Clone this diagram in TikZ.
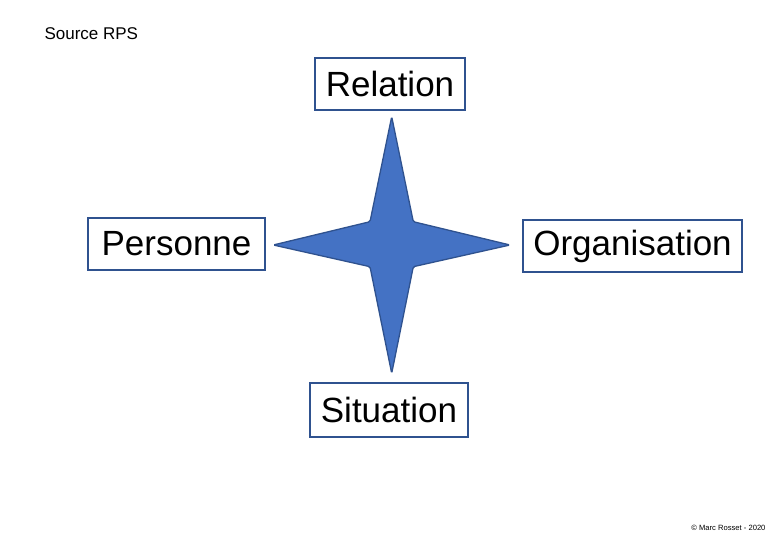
\documentclass[tikz,border=0pt]{standalone}
\usepackage{fontspec}
\setmainfont{Liberation Sans}
\definecolor{boxline}{HTML}{2F528F}
\definecolor{starfill}{HTML}{4472C4}
\begin{document}
\begin{tikzpicture}[x=1pt,y=-1pt,
  labelbox/.style={draw=boxline, line width=2.5pt, fill=white, inner sep=0pt,
    minimum height=52pt, font=\fontsize{35}{40}\selectfont, text=black},
]
\useasboundingbox[fill=white] (0,0) rectangle (780,540);
\node[anchor=base west, font=\fontsize{17}{20}\selectfont] (src) at (41,40) {Source RPS};
\node[anchor=base east, font=\fontsize{7.6}{9}\selectfont] (copy) at (769,530) {© Marc Rosset - 2020};
% star
\draw[fill=starfill, draw=boxline, line width=1.3pt, rounded corners=1.5pt]
  (391.7,116.7) -- (413.3,221.7) -- (510,245) -- (413.3,266.7)
  -- (391.7,373.3) -- (370,266.7) -- (273.3,245) -- (370,221.7) -- cycle;
\node[labelbox, minimum width=150pt] (rel) at (390,84) {Relation};
\node[labelbox, minimum width=177pt] (pers) at (176.5,244) {Personne};
\node[labelbox, minimum width=219pt] (org) at (632.5,246) {Organisation};
\node[labelbox, minimum width=158pt, minimum height=54pt] (sit) at (389,410) {Situation};
\end{tikzpicture}
\end{document}
